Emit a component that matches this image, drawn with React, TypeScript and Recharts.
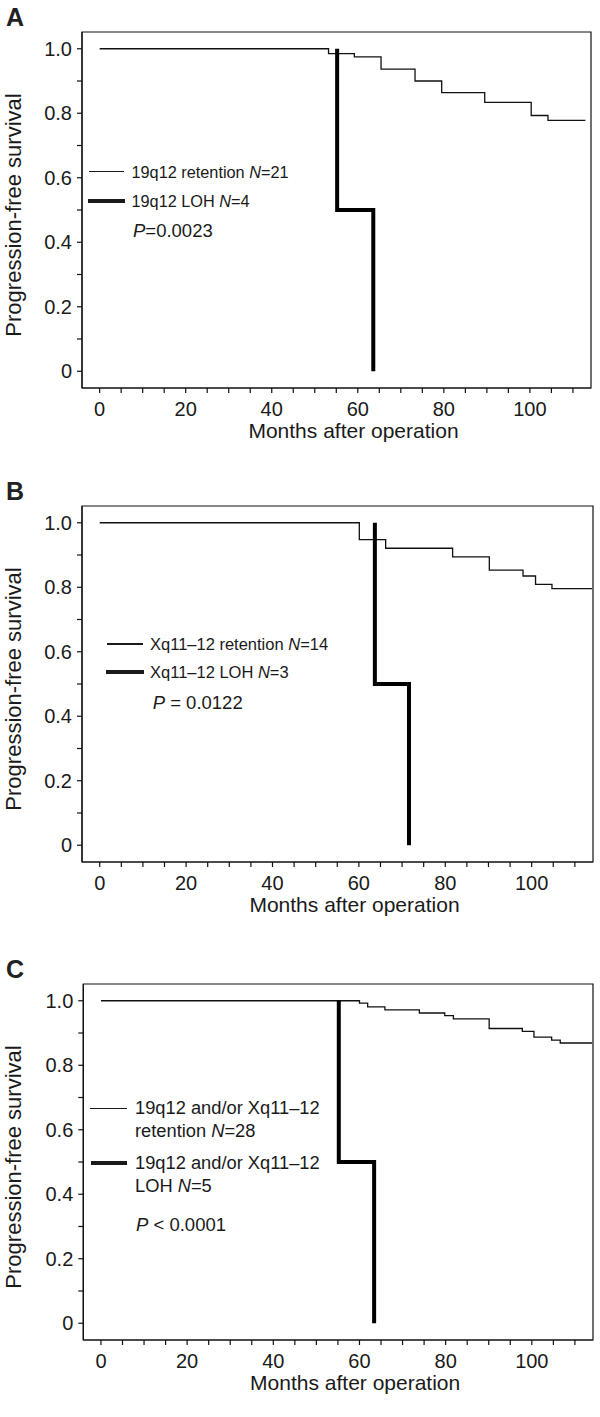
import React from "react";
import { LineChart, Line, XAxis, YAxis, ReferenceArea } from "recharts";

// ─── Data ────────────────────────────────────────────────────────────────

const X_TICKS = [0, 5, 10, 15, 20, 25, 30, 35, 40, 45, 50, 55, 60, 65, 70, 75, 80, 85, 90, 95, 100, 105, 110];
const Y_TICKS = [0, 0.1, 0.2, 0.3, 0.4, 0.5, 0.6, 0.7, 0.8, 0.9, 1.0];

// Panel A: 19q12  (retention: step-after from t=0; LOH: from first event)
const A_RET_T = [0, 53.2, 59.2, 65.4, 73.3, 79.5, 89.5, 100.3, 104.2, 112.9];
const A_RET_S = [1, 0.985, 0.975, 0.937, 0.9, 0.864, 0.834, 0.793, 0.778, 0.778];
const A_LOH_T = [55.2, 63.6, 63.6];
const A_LOH_S = [1, 0.5, 0];

// Panel B: Xq11-12
const B_RET_T = [0, 60.1, 66.2, 81.7, 90.2, 98.0, 100.9, 104.7, 114];
const B_RET_S = [1, 0.948, 0.921, 0.894, 0.853, 0.835, 0.809, 0.796, 0.796];
const B_LOH_T = [63.7, 71.6, 71.6];
const B_LOH_S = [1, 0.5, 0];

// Panel C: 19q12 and/or Xq11-12
const C_RET_T = [0, 60.0, 61.9, 65.9, 73.9, 79.8, 81.8, 90.1, 97.8, 100.5, 104.6, 106.6, 114];
const C_RET_S = [1, 0.993, 0.981, 0.972, 0.962, 0.954, 0.944, 0.914, 0.905, 0.887, 0.878, 0.869, 0.869];
const C_LOH_T = [55.2, 63.4, 63.4];
const C_LOH_S = [1, 0.5, 0];

// ─── Helpers ─────────────────────────────────────────────────────────────

const FONT = '"Liberation Sans", Arial, Helvetica, sans-serif';
const INK = "#1a1a1a";
const X_DOMAIN: [number, number] = [-4.1, 114.2];
const Y_DOMAIN: [number, number] = [-0.052, 1.052];

const toPoints = (t: number[], s: number[]) => t.map((v, i) => ({ t: v, s: s[i] }));

const fmtX = (v: number) => (v % 20 === 0 ? String(v) : "");
const fmtY = (v: number) => {
  const k = Math.round(v * 10);
  if (k % 2 !== 0) return "";
  if (k === 0) return "0";
  return (k / 10).toFixed(1);
};

function XLabel({ viewBox }: any) {
  const cx = viewBox.x + viewBox.width / 2 + 17;
  return (
    <text x={cx} y={438} textAnchor="middle" fill={INK} fontSize={21} fontFamily={FONT}>
      Months after operation
    </text>
  );
}

function YLabel({ viewBox }: any) {
  const x = 21;
  const y = viewBox.y + viewBox.height / 2 + 5;
  return (
    <text x={x} y={y} transform={`rotate(-90 ${x} ${y})`} textAnchor="middle" fill={INK} fontSize={22} fontFamily={FONT}>
      Progression-free survival
    </text>
  );
}

function LegendRow({ x1, x2, textX, y, thick, fontSize, lineHeight, children }: {
  x1: number; x2: number; textX: number; y: number; thick: boolean;
  fontSize: number; lineHeight: number; children: React.ReactNode;
}) {
  const h = thick ? 4 : 1.2;
  return (
    <>
      <div style={{ position: "absolute", left: x1, width: x2 - x1, top: y - h / 2, height: h, background: INK }} />
      <div
        style={{
          position: "absolute", left: textX, top: y - lineHeight / 2, fontSize, lineHeight: `${lineHeight}px`,
          fontFamily: FONT, color: INK, whiteSpace: "nowrap",
        }}
      >
        {children}
      </div>
    </>
  );
}

function PValue({ x, y, children }: { x: number; y: number; children: React.ReactNode }) {
  return (
    <div style={{ position: "absolute", left: x, top: y - 11, fontSize: 18.5, lineHeight: "22px", fontFamily: FONT, color: INK, whiteSpace: "nowrap" }}>
      {children}
    </div>
  );
}

function SurvivalPanel({ letter, top, axisWidth, rightMargin, retention, loh, legend }: {
  letter: string; top: number; axisWidth: number; rightMargin: number;
  retention: { t: number; s: number }[]; loh: { t: number; s: number }[]; legend: React.ReactNode;
}) {
  const axisStroke = { stroke: "#111", strokeWidth: 1.2 };
  const tick = { fill: INK, fontSize: 20, fontFamily: FONT };
  return (
    <div style={{ position: "absolute", top, left: 0, width: 600, height: 470 }}>
      <div style={{ position: "absolute", left: 6, top: 5, fontSize: 25, lineHeight: "25px", fontWeight: 700, fontFamily: FONT, color: "#222" }}>
        {letter}
      </div>
      <LineChart width={600} height={470} margin={{ top: 32, right: rightMargin, bottom: 0, left: 0 }}>
        <XAxis
          dataKey="t" type="number" domain={X_DOMAIN} ticks={X_TICKS} interval={0} tickFormatter={fmtX}
          tickSize={5} tickMargin={9} height={82} axisLine={axisStroke} tickLine={axisStroke} tick={tick}
          allowDataOverflow label={<XLabel />}
        />
        <YAxis
          type="number" domain={Y_DOMAIN} ticks={Y_TICKS} interval={0} tickFormatter={fmtY}
          tickSize={5} tickMargin={5} width={axisWidth} axisLine={axisStroke} tickLine={axisStroke} tick={tick}
          allowDataOverflow label={<YLabel />}
        />
        <ReferenceArea
          x1={X_DOMAIN[0]} x2={X_DOMAIN[1]} y1={Y_DOMAIN[0]} y2={Y_DOMAIN[1]}
          fill="none" fillOpacity={0} stroke="#111" strokeWidth={1.2} strokeOpacity={1} ifOverflow="visible"
        />
        <Line data={retention} dataKey="s" type="stepAfter" stroke="#111" strokeWidth={1.3} dot={false} activeDot={false} isAnimationActive={false} />
        <Line data={loh} dataKey="s" type="stepBefore" stroke="#000" strokeWidth={4} dot={false} activeDot={false} isAnimationActive={false} />
      </LineChart>
      {legend}
    </div>
  );
}

// ─── App ─────────────────────────────────────────────────────────────────

export default function App() {
  const N = <i>N</i>;
  const P = <i>P</i>;
  return (
    <div style={{ position: "absolute", top: 0, left: 0, width: 600, height: 1417, background: "#fff", overflow: "hidden" }}>
      <SurvivalPanel
        letter="A" top={0} axisWidth={82} rightMargin={9}
        retention={toPoints(A_RET_T, A_RET_S)} loh={toPoints(A_LOH_T, A_LOH_S)}
        legend={
          <>
            <LegendRow x1={89} x2={124} textX={131.5} y={171.7} thick={false} fontSize={16.3} lineHeight={20}>
              19q12 retention {N}=21
            </LegendRow>
            <LegendRow x1={88} x2={125} textX={131.5} y={200.7} thick fontSize={16.3} lineHeight={20}>
              19q12 LOH {N}=4
            </LegendRow>
            <PValue x={133} y={230.7}>{P}=0.0023</PValue>
          </>
        }
      />
      <SurvivalPanel
        letter="B" top={474} axisWidth={82} rightMargin={7}
        retention={toPoints(B_RET_T, B_RET_S)} loh={toPoints(B_LOH_T, B_LOH_S)}
        legend={
          <>
            <LegendRow x1={107} x2={143} textX={150} y={170} thick={false} fontSize={16.5} lineHeight={20}>
              Xq11–12 retention {N}=14
            </LegendRow>
            <LegendRow x1={106} x2={144} textX={150} y={197.7} thick fontSize={16.5} lineHeight={20}>
              Xq11–12 LOH {N}=3
            </LegendRow>
            <PValue x={152.7} y={229.3}>{P} = 0.0122</PValue>
          </>
        }
      />
      <SurvivalPanel
        letter="C" top={952} axisWidth={83.3} rightMargin={7}
        retention={toPoints(C_RET_T, C_RET_S)} loh={toPoints(C_LOH_T, C_LOH_S)}
        legend={
          <>
            <LegendRow x1={90} x2={126.7} textX={135} y={156.3} thick={false} fontSize={18.3} lineHeight={22.4}>
              19q12 and/or Xq11–12<br />retention {N}=28
            </LegendRow>
            <LegendRow x1={90.7} x2={126.7} textX={135} y={211.3} thick fontSize={18.3} lineHeight={22.4}>
              19q12 and/or Xq11–12<br />LOH {N}=5
            </LegendRow>
            <PValue x={136} y={273}>{P} &lt; 0.0001</PValue>
          </>
        }
      />
    </div>
  );
}
